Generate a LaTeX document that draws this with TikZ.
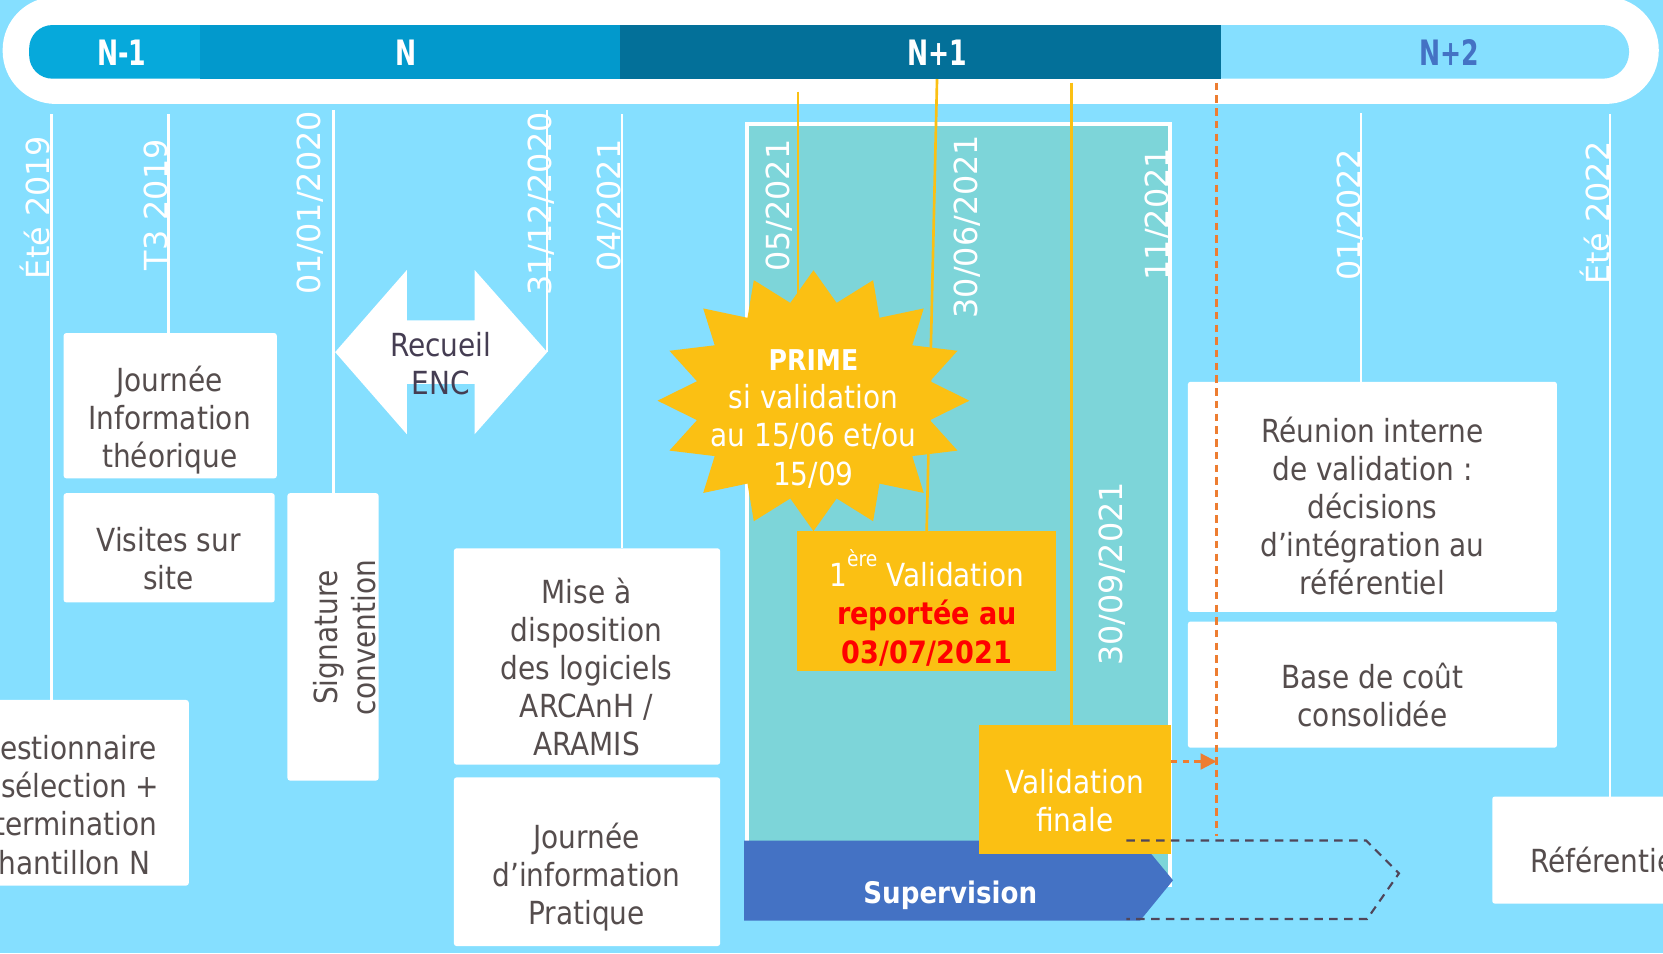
\documentclass[tikz,border=0pt]{standalone}
\usepackage{fontspec}
\setmainfont{DejaVu Sans}[FakeStretch=0.88]
\newfontfamily\datef{DejaVu Sans}
\newfontfamily\barf{DejaVu Sans}[FakeStretch=0.72]
\usetikzlibrary{arrows.meta,fit}
\definecolor{bgc}{RGB}{133,223,255}
\definecolor{cNm}{RGB}{6,169,219}
\definecolor{cN}{RGB}{2,153,204}
\definecolor{cNp}{RGB}{3,112,153}
\definecolor{cNpp}{RGB}{133,223,255}
\definecolor{nblue}{RGB}{68,114,196}
\definecolor{tealbg}{RGB}{125,213,217}
\definecolor{yel}{RGB}{251,192,19}
\definecolor{txtc}{RGB}{85,77,77}
\definecolor{orng}{RGB}{237,125,49}
\definecolor{dgray}{RGB}{80,70,90}
\definecolor{recc}{RGB}{69,61,82}
\begin{document}
\begin{tikzpicture}[x=1pt,y=-1pt,
  wbox/.style={fill=white, rounded corners=2.5pt, inner sep=0pt, outer sep=0pt, draw=none},
  ybox/.style={fill=yel, inner sep=0pt, outer sep=0pt, draw=none},
  btxt/.style={text=txtc, align=center, font=\fontsize{30}{36}\selectfont, inner sep=0pt},
  wtxt/.style={text=white, align=center, font=\fontsize{30}{36}\selectfont, inner sep=0pt},
  datelbl/.style={text=white, font=\datef\fontsize{30}{36}\selectfont, rotate=90, anchor=base, inner sep=0pt},
  barlbl/.style={font=\barf\bfseries\fontsize{33}{36}\selectfont, text=white, anchor=base, inner sep=0pt},
  tick/.style={white, line width=2.3pt},
  yline/.style={yel, line width=2.5pt},
  odash/.style={orng, line width=2.2pt, dash pattern=on 7pt off 5pt},
  gdash/.style={dgray, line width=2pt, dash pattern=on 8pt off 6pt}
]
\clip (0,0) rectangle (1568,899);
\fill[bgc] (0,0) rectangle (1568,899);
% top band
\fill[white, rounded corners=50pt] (2.5,-3) rectangle (1564,98);
\fill[cNm, rounded corners=22pt] (27.5,23.6) rectangle (230,74.2);
\fill[cNpp, rounded corners=25pt] (1100,23.6) rectangle (1536,74.2);
\fill[cN] (188.7,23.6) rectangle (585,74.2);
\fill[cNp] (585,23.6) rectangle (1151.3,74.2);
\node[barlbl] (lNm) at (115,62.2) {N-1};
\node[barlbl] (lN) at (383,62.2) {N};
\node[barlbl] (lNp) at (884,62.2) {N+1};
\node[barlbl, text=nblue] (lNpp) at (1366.5,62.2) {N+2};
% teal frame
\draw[white, line width=4pt, fill=tealbg] (704,117) rectangle (1103,834);
% boxes
\node[wbox, fit={(60,314) (261,451)}] (jit) {};
\node[wbox, fit={(60,465) (259,568)}] (vis) {};
\node[wbox, fit={(271,465) (357,736)}] (sig) {};
\node[wbox, fit={(-64,660) (178,835)}] (quest) {};
\node[wbox, fit={(428,517) (679,721)}] (mise) {};
\node[wbox, fit={(428,733) (679,892)}] (jip) {};
\node[wbox, fit={(1120,360) (1468,577)}] (reun) {};
\node[wbox, fit={(1120,586) (1468,705)}] (base) {};
\node[wbox, fit={(1407,751) (1700,852)}] (ref) {};
% tick coordinates
\coordinate (tE19) at (48.7,107.5);
\coordinate (tT3) at (158.8,107.5);
\coordinate (t0101) at (314.6,103.7);
\coordinate (t3112) at (516,104);
\coordinate (recR) at (516,332);
\coordinate (t04) at (586.5,107.5);
\coordinate (t0122) at (1283,107);
\coordinate (tE22) at (1518,107.5);
\draw[tick] (tE19) -- (quest.north -| tE19);
\draw[tick] (tT3) -- (jit.north -| tT3);
\draw[tick] (t0101) -- (sig.north -| t0101);
\draw[tick] (t3112) -- (recR);
\draw[tick] (t04) -- (mise.north -| t04);
\draw[tick] (t0122) -- (reun.north -| t0122);
\draw[tick] (tE22) -- (ref.north -| tE22);
% date labels
\node[datelbl] (dE19) at (47,195.6) {Été 2019};
\node[datelbl] (dT3) at (157.6,193) {T3 2019};
\node[datelbl] (d0101) at (302.4,191.3) {01/01/2020};
\node[datelbl] (d3112) at (519.7,192.4) {31/12/2020};
\node[datelbl] (d04) at (585,194) {04/2021};
\node[datelbl] (d05) at (744.5,194) {05/2021};
\node[datelbl] (d3006) at (922,213.7) {30/06/2021};
\node[datelbl] (d11) at (1101.4,202) {11/2021};
\node[datelbl] (d3009) at (1058,541) {30/09/2021};
\node[datelbl] (d0122) at (1282.5,202.6) {01/2022};
\node[datelbl] (dE22) at (1518,201) {Été 2022};
% yellow boxes
\node[ybox, fit={(751.8,500.7) (995.6,633)}] (v1) {};
\coordinate (y05a) at (752.5,86.5);
\coordinate (y05b) at (752.5,300);
\coordinate (y3006) at (883.5,74.5);
\coordinate (y3009) at (1010.5,78);
\draw[yline] (y05a) -- (y05b);
\draw[yline] (y3006) -- (v1.north);
% Recueil double arrow
\fill[white] (316,332) -- (383.6,254.6) -- (383.6,302) -- (447.5,302) -- (447.5,254.6) -- (516,332) -- (447.5,409.4) -- (447.5,362) -- (383.6,362) -- (383.6,409.4) -- cycle;
\node[btxt, text=recc] (rec) at (415.5,343) {Recueil\\ENC};
% star
\fill[yel] (767,254.8) \foreach \k in {1,...,31} { -- ({767+(147-35*mod(\k,2))*sin(\k*11.25)},{377.8-(123-29*mod(\k,2))*cos(\k*11.25)}) } -- cycle;
\node[wtxt] (primeT) at (767,395) {{\bfseries\fontsize{27}{36}\selectfont PRIME}\\si validation\\au 15/06 et/ou\\15/09};
% box texts
\node[btxt] (jitT) at (160,396) {Journée\\Information\\théorique};
\node[btxt] (visT) at (159,527) {Visites sur\\site};
\node[btxt, rotate=90] (sigT) at (325,601) {Signature\\convention};
\node[btxt] (questT) at (55,759) {Questionnaire\\de sélection +\\détermination\\échantillon N};
\node[btxt] (miseT) at (553,629) {Mise à\\disposition\\des logiciels\\ARCAnH /\\ARAMIS};
\node[btxt] (jipT) at (553,827) {Journée\\d’information\\Pratique};
\node[btxt] (reunT) at (1294,477) {Réunion interne\\de validation :\\décisions\\d’intégration au\\référentiel};
\node[btxt] (baseT) at (1294,655) {Base de coût\\consolidée};
\node[btxt, anchor=base west] (refT) at (1442.6,823) {Référentiel};
\node[wtxt] (v1T) at (874,573) {1\raisebox{19pt}{\fontsize{20}{20}\selectfont ère} Validation\\\textcolor{red}{\bfseries\fontsize{29}{36}\selectfont reportée au}\\\textcolor{red}{\bfseries\fontsize{29}{36}\selectfont 03/07/2021}};
% supervision
\fill[nblue] (701.6,792.5) -- (1075,792.5) -- (1106,830) -- (1075,868) -- (701.6,868) -- cycle;
\node[text=white, font=\bfseries\fontsize{28}{30}\selectfont, anchor=base, inner sep=0pt] (supT) at (896,851.7) {Supervision};
% validation finale
\node[ybox, fit={(923,683.6) (1104,805)}] (vfin) {};
\draw[yline] (y3009) -- (vfin.north -| y3009);
\node[wtxt] (vfinT) at (1013.5,755) {Validation\\finale};
% orange dashed
\coordinate (oTop) at (1147,78);
\coordinate (oBot) at (1147,788);
\coordinate (arrT) at (1147,718);
\draw[odash] (oTop) -- (oBot);
\draw[odash, dash pattern=on 6pt off 5pt, -{Triangle[length=15pt,width=15pt]}] (vfin.east |- arrT) -- (arrT);
% dashed chevron
\draw[gdash] (1062,792.5) -- (1288,792.5) -- (1319,823.5) -- (1289,866.5) -- (1062,866.5);
\end{tikzpicture}
\end{document}
